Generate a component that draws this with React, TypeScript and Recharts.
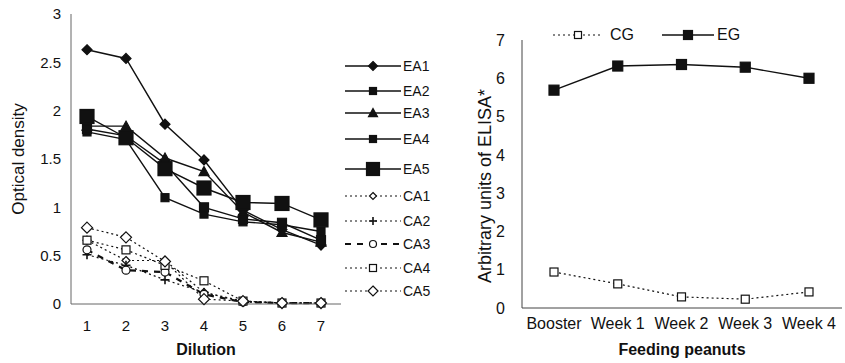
import React from 'react';
import { LineChart, Line, XAxis, YAxis, Legend } from 'recharts';

// left panel: optical density by dilution
const dilutions = ['1', '2', '3', '4', '5', '6', '7'];
const ea1 = [2.63, 2.54, 1.86, 1.49, 0.97, 0.77, 0.61];
const ea2 = [1.78, 1.7, 1.1, 0.93, 0.85, 0.82, 0.75];
const ea3 = [1.84, 1.84, 1.51, 1.37, 0.95, 0.74, 0.64];
const ea4 = [1.81, 1.74, 1.45, 1.0, 0.88, 0.84, 0.66];
const ea5 = [1.94, 1.72, 1.4, 1.2, 1.05, 1.04, 0.87];
const ca1 = [0.66, 0.45, 0.45, 0.12, 0.03, 0.01, 0.01];
const ca2 = [0.51, 0.4, 0.25, 0.12, 0.02, 0.01, 0.01];
const ca3 = [0.56, 0.35, 0.33, 0.1, 0.02, 0.01, 0.01];
const ca4 = [0.66, 0.56, 0.4, 0.24, 0.03, 0.01, 0.01];
const ca5 = [0.79, 0.69, 0.44, 0.05, 0.03, 0.01, 0.01];
const odTicks = [0, 0.5, 1, 1.5, 2, 2.5, 3];

// right panel: ELISA units while feeding peanuts
const weeks = ['Booster', 'Week 1', 'Week 2', 'Week 3', 'Week 4'];
const cg = [0.94, 0.63, 0.29, 0.23, 0.42];
const eg = [5.69, 6.32, 6.36, 6.29, 6.0];
const elisaTicks = [0, 1, 2, 3, 4, 5, 6, 7];

const FONT = '"Liberation Sans", Arial, sans-serif';
const INK = '#111';

const dilutionData = dilutions.map((d, i) => ({
  name: d,
  EA1: ea1[i], EA2: ea2[i], EA3: ea3[i], EA4: ea4[i], EA5: ea5[i],
  CA1: ca1[i], CA2: ca2[i], CA3: ca3[i], CA4: ca4[i], CA5: ca5[i],
}));

const weekData = weeks.map((w, i) => ({ name: w, CG: cg[i], EG: eg[i] }));

type Shape = 'diamond' | 'square' | 'triangle' | 'circle' | 'plus';

interface SeriesStyle {
  key: string;
  shape: Shape;
  size: number;
  legendSize: number;
  filled: boolean;
  dash?: string;
  width: number;
  gap?: number; // extra space above the legend row
}

const leftSeries: SeriesStyle[] = [
  { key: 'EA1', shape: 'diamond', size: 10, legendSize: 9, filled: true, width: 1.4, gap: 0 },
  { key: 'EA2', shape: 'square', size: 8, legendSize: 7, filled: true, width: 1.4, gap: 5 },
  { key: 'EA3', shape: 'triangle', size: 10, legendSize: 9, filled: true, width: 1.4, gap: 2 },
  { key: 'EA4', shape: 'square', size: 9, legendSize: 7, filled: true, width: 1.4, gap: 6 },
  { key: 'EA5', shape: 'square', size: 14, legendSize: 13, filled: true, width: 1.4, gap: 10 },
  { key: 'CA1', shape: 'diamond', size: 8, legendSize: 7, filled: false, dash: '2 3', width: 1.2, gap: 7 },
  { key: 'CA2', shape: 'plus', size: 9, legendSize: 8, filled: false, dash: '2 3', width: 1.2, gap: 5 },
  { key: 'CA3', shape: 'circle', size: 8, legendSize: 7, filled: false, dash: '6 6', width: 2.2, gap: 3 },
  { key: 'CA4', shape: 'square', size: 8, legendSize: 7, filled: false, dash: '2 3', width: 1.2, gap: 4 },
  { key: 'CA5', shape: 'diamond', size: 11, legendSize: 10, filled: false, dash: '2 3', width: 1.2, gap: 3 },
];

const rightSeries: SeriesStyle[] = [
  { key: 'CG', shape: 'square', size: 8, legendSize: 7, filled: false, dash: '2 3', width: 1.2 },
  { key: 'EG', shape: 'square', size: 10, legendSize: 9, filled: true, width: 1.4 },
];

function Marker({ cx, cy, shape, size, filled }: { cx: number; cy: number; shape: Shape; size: number; filled: boolean }) {
  const r = size / 2;
  const fill = filled ? INK : '#fff';
  const common = { fill, stroke: INK, strokeWidth: 1.2 };
  switch (shape) {
    case 'diamond':
      return <polygon points={`${cx},${cy - r} ${cx + r},${cy} ${cx},${cy + r} ${cx - r},${cy}`} {...common} />;
    case 'square':
      return <rect x={cx - r} y={cy - r} width={size} height={size} {...common} />;
    case 'triangle':
      return <polygon points={`${cx},${cy - r} ${cx + r},${cy + r * 0.8} ${cx - r},${cy + r * 0.8}`} {...common} />;
    case 'circle':
      return <circle cx={cx} cy={cy} r={r} {...common} />;
    case 'plus':
      return <path d={`M${cx - r},${cy}H${cx + r}M${cx},${cy - r}V${cy + r}`} stroke={INK} strokeWidth={1.6} fill="none" />;
  }
  return null;
}

function LegendSwatch({ s, width }: { s: SeriesStyle; width: number }) {
  return (
    <svg width={width} height={18} style={{ display: 'block' }}>
      <line x1={0} y1={9} x2={width} y2={9} stroke={INK} strokeWidth={s.width} strokeDasharray={s.dash} />
      <Marker cx={width / 2} cy={9} shape={s.shape} size={s.legendSize} filled={s.filled} />
    </svg>
  );
}

function renderLine(s: SeriesStyle) {
  return (
    <Line
      key={s.key}
      type="linear"
      dataKey={s.key}
      stroke={INK}
      strokeWidth={s.width}
      strokeDasharray={s.dash}
      isAnimationActive={false}
      activeDot={false}
      dot={(p: any) => (
        <Marker key={`${s.key}-${p.index}`} cx={p.cx} cy={p.cy} shape={s.shape} size={s.size} filled={s.filled} />
      )}
    />
  );
}

// rotated axis title, nudged down a little like the original
function ElisaLabel({ viewBox }: any) {
  const x = viewBox.x + 35;
  const y = viewBox.y + viewBox.height / 2 + 12;
  return (
    <text
      x={x}
      y={y}
      transform={`rotate(-90 ${x} ${y})`}
      textAnchor="middle"
      dominantBaseline="central"
      fill={INK}
      fontSize={18}
      fontFamily={FONT}
    >
      Arbitrary units of ELISA*
    </text>
  );
}

export default function App() {
  return (
    <div style={{ position: 'absolute', left: 0, top: 0, width: 845, height: 363, background: '#fff', fontFamily: FONT }}>
      {/* Dilution panel */}
      <div style={{ position: 'absolute', left: 0, top: 0 }}>
        <LineChart width={450} height={363} data={dilutionData} margin={{ top: 14, right: 109, bottom: 0, left: 0 }}>
          <XAxis
            dataKey="name"
            height={59}
            padding={{ left: 16, right: 20 }}
            tickLine={false}
            tickMargin={10}
            stroke="#666"
            tick={{ fill: INK, fontSize: 15, fontFamily: FONT }}
            label={{ value: 'Dilution', position: 'insideBottom', offset: 8, fill: INK, fontSize: 16, fontWeight: 'bold', fontFamily: FONT }}
          />
          <YAxis
            width={71}
            domain={[0, 3]}
            ticks={odTicks}
            tickLine={false}
            tickMargin={4}
            stroke="#666"
            tick={{ fill: INK, fontSize: 15, fontFamily: FONT }}
            label={{ value: 'Optical density', angle: -90, position: 'insideLeft', offset: 18, fill: INK, fontSize: 17, fontFamily: FONT, style: { textAnchor: 'middle' } }}
          />
          <Legend
            layout="horizontal"
            align="center"
            verticalAlign="middle"
            wrapperStyle={{ position: 'absolute', left: 345, top: 56, width: 100 }}
            content={() => (
              <div style={{ fontFamily: FONT, fontSize: 14, color: INK }}>
                {leftSeries.map((s) => (
                  <div key={s.key} style={{ display: 'flex', alignItems: 'center', height: 20, marginTop: s.gap }}>
                    <LegendSwatch s={s} width={56} />
                    <span style={{ marginLeft: 2 }}>{s.key}</span>
                  </div>
                ))}
              </div>
            )}
          />
          {leftSeries.slice(5).map(renderLine)}
          {leftSeries.slice(0, 5).map(renderLine)}
        </LineChart>
      </div>

      {/* Feeding panel */}
      <div style={{ position: 'absolute', left: 450, top: 0 }}>
        <LineChart width={395} height={363} data={weekData} margin={{ top: 40, right: 3, bottom: 0, left: 0 }}>
          <XAxis
            dataKey="name"
            height={55}
            padding={{ left: 32, right: 33 }}
            tickLine={false}
            tickMargin={4}
            interval={0}
            stroke="#444"
            tick={{ fill: INK, fontSize: 16, fontFamily: FONT }}
            label={{ value: 'Feeding peanuts', position: 'insideBottom', offset: 8, fill: INK, fontSize: 16, fontWeight: 'bold', fontFamily: FONT }}
          />
          <YAxis
            width={72}
            domain={[0, 7]}
            ticks={elisaTicks}
            tickLine={false}
            tickMargin={11}
            stroke="#444"
            tick={{ fill: INK, fontSize: 16, fontFamily: FONT }}
            label={<ElisaLabel />}
          />
          <Legend
            layout="horizontal"
            align="center"
            verticalAlign="middle"
            wrapperStyle={{ position: 'absolute', left: 103, top: 26, width: 300 }}
            content={() => (
              <div style={{ display: 'flex', alignItems: 'center', fontFamily: FONT, fontSize: 16, color: INK }}>
                <LegendSwatch s={rightSeries[0]} width={50} />
                <span style={{ marginLeft: 7 }}>CG</span>
                <span style={{ width: 28 }} />
                <LegendSwatch s={rightSeries[1]} width={52} />
                <span style={{ marginLeft: 3 }}>EG</span>
              </div>
            )}
          />
          {rightSeries.map(renderLine)}
        </LineChart>
      </div>
    </div>
  );
}
